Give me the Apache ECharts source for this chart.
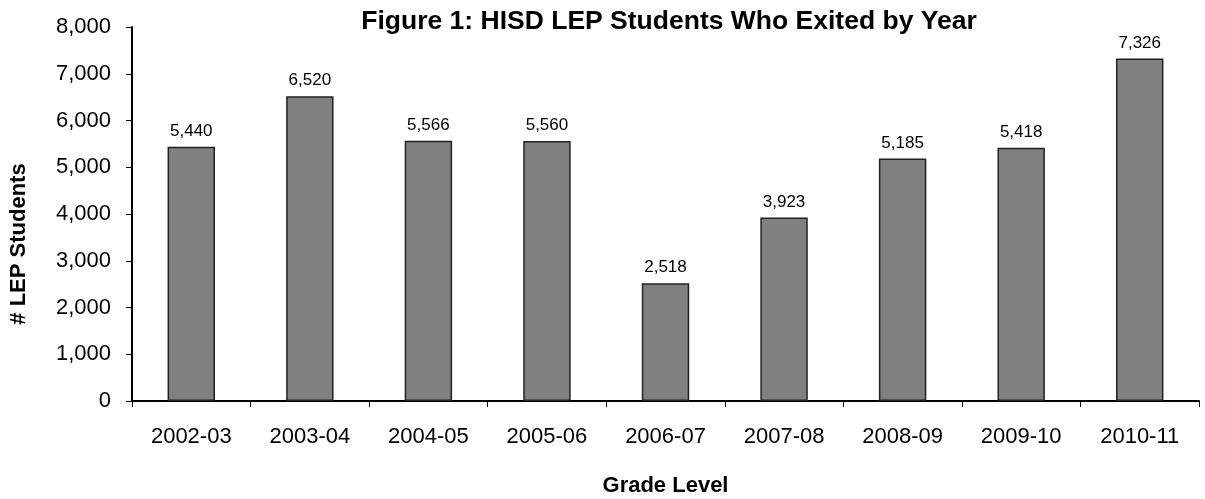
<!doctype html>
<html lang="en">
<head>
    <meta charset="UTF-8">
    <title>HISD LEP Students Who Exited by Year</title>
    <script src="https://cdn.jsdelivr.net/npm/echarts@6/dist/echarts.min.js"></script>
    <style>
        html, body { margin: 0; padding: 0; background: #fff; }
    </style>
</head>
<body>
<div id="main" style="width:1205px; height:499px;"></div>

<script>
    var years = ['2002-03', '2003-04', '2004-05', '2005-06', '2006-07', '2007-08', '2008-09', '2009-10', '2010-11'];
    var exited = [5440, 6520, 5566, 5560, 2518, 3923, 5185, 5418, 7326];

    var font = '"Liberation Sans", Arial, sans-serif';

    function fmt(v) {
        return v.toLocaleString('en-US');
    }

    var myChart = echarts.init(document.getElementById('main'));
    myChart.setOption({
        animation: false,
        textStyle: { fontFamily: font, color: '#000' },
        title: {
            text: 'Figure 1: HISD LEP Students Who Exited by Year',
            left: 664,
            textAlign: 'center',
            top: 3,
            textStyle: { fontFamily: font, fontSize: 26.5, fontWeight: 'bold', color: '#000' }
        },
        grid: {
            left: 132,
            right: 6,
            top: 27,
            bottom: 98,
            outerBoundsMode: 'none'
        },
        xAxis: {
            type: 'category',
            data: years,
            name: 'Grade Level',
            nameLocation: 'middle',
            nameGap: 74,
            nameTextStyle: { fontFamily: font, fontSize: 22, fontWeight: 'bold', color: '#000' },
            axisLine: { lineStyle: { color: '#000', width: 2 } },
            axisTick: { show: true, alignWithLabel: false, length: 6, lineStyle: { color: '#000', width: 1 } },
            axisLabel: { fontFamily: font, fontSize: 22, color: '#000', margin: 25 }
        },
        yAxis: {
            type: 'value',
            min: 0,
            max: 8000,
            interval: 1000,
            name: '# LEP Students',
            nameLocation: 'middle',
            nameGap: 102,
            nameTextStyle: { fontFamily: font, fontSize: 22, fontWeight: 'bold', color: '#000', padding: [0, 60, 0, 0] },
            axisLine: { show: true, lineStyle: { color: '#000', width: 2 } },
            axisTick: { show: true, length: 6, lineStyle: { color: '#000', width: 1 } },
            splitLine: { show: false },
            axisLabel: {
                fontFamily: font,
                fontSize: 22,
                color: '#000',
                margin: 21,
                formatter: function (v) { return fmt(v); }
            }
        },
        series: [
            {
                name: '# LEP Students',
                type: 'bar',
                data: exited,
                barWidth: '40%',
                itemStyle: { color: '#808080', borderColor: '#222', borderWidth: 1.5 },
                label: {
                    show: true,
                    position: 'top',
                    distance: 7,
                    fontFamily: font,
                    fontSize: 17,
                    color: '#000',
                    formatter: function (p) { return fmt(p.value); }
                }
            }
        ]
    });
</script>
</body>
</html>
